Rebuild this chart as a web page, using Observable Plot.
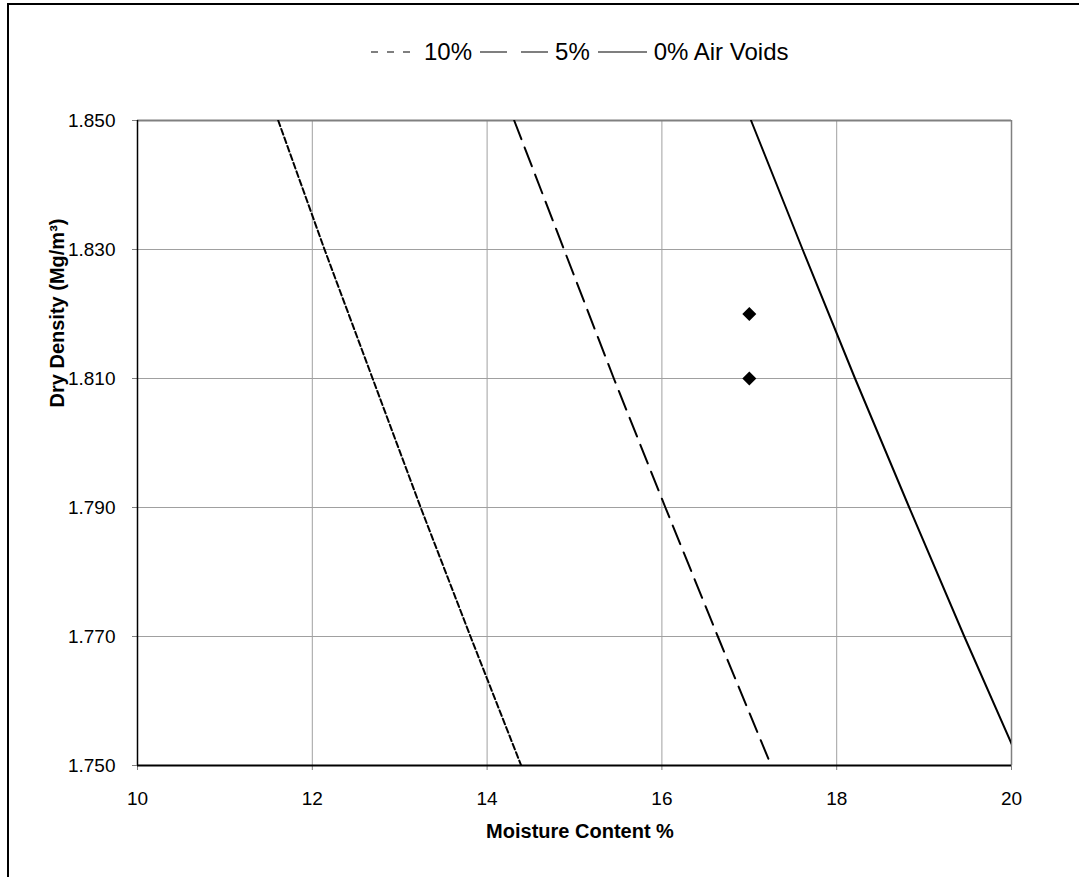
<!DOCTYPE html>
<html>
<head>
<meta charset="utf-8">
<script src="https://cdn.jsdelivr.net/npm/d3@7"></script>
<script src="https://cdn.jsdelivr.net/npm/@observablehq/plot@0.6"></script>
<style>
  html, body { margin: 0; padding: 0; background: #fff; }
  body { width: 1079px; height: 877px; position: relative; overflow: hidden; font-family: "Liberation Sans", Arial, sans-serif; }
  #frame { position: absolute; left: 7px; top: 3px; right: -10px; bottom: -10px; border-top: 2px solid #000; border-left: 2px solid #000; }
  #legend { position: absolute; left: 371px; top: 38px; display: flex; align-items: center; font-size: 24px; color: #000; white-space: nowrap; }
  #legend .item { display: flex; align-items: center; }
  #legend svg { display: block; margin: 0 7px 0 8px; }
  #legend .item:first-child svg { margin-left: 0; }
  #chart { position: absolute; left: 0; top: 0; }
</style>
</head>
<body>
<div id="frame"></div>
<div id="chart"></div>
<div id="legend"></div>
<script>
// ---- data ----
const seriesNames = ["10%", "5%", "0% Air Voids"];
const density = [1.85, 1.83, 1.81, 1.79, 1.77, 1.75];
const moisture10 = [11.61, 12.14, 12.69, 13.24, 13.81, 14.39];
const moisture5  = [14.31, 14.88, 15.45, 16.04, 16.64, 17.25];
const moisture0  = [17.02, 17.61, 18.21, 18.83, 19.46, 20.11];
const pointMoisture = [17, 17];
const pointDensity = [1.82, 1.81];
const xTicks = [10, 12, 14, 16, 18, 20];
const yTicks = [1.75, 1.77, 1.79, 1.81, 1.83, 1.85];
const xTitle = "Moisture Content %";
const yTitle = "Dry Density (Mg/m³)";

const dashes = {"10%": "6,3", "5%": "20,9", "0% Air Voids": null};
const moistureBySeries = {"10%": moisture10, "5%": moisture5, "0% Air Voids": moisture0};

const lineData = seriesNames.flatMap(s =>
  density.map((d, i) => ({series: s, w: moistureBySeries[s][i], rho: d})));
const points = pointMoisture.map((w, i) => ({w, rho: pointDensity[i]}));

const marks = [
  Plot.gridX(xTicks.slice(1, -1), {stroke: "#a0a0a0", strokeOpacity: 1, strokeWidth: 1}),
  Plot.gridY(yTicks.slice(1, -1), {stroke: "#a0a0a0", strokeOpacity: 1, strokeWidth: 1}),
  Plot.ruleY([yTicks[yTicks.length - 1]], {stroke: "#808080", strokeWidth: 2}),
  Plot.ruleX([xTicks[xTicks.length - 1]], {stroke: "#808080", strokeWidth: 1.5}),
  Plot.axisX({ticks: xTicks, tickSize: 5, tickPadding: 21, stroke: "#808080", label: null, fill: "#000"}),
  Plot.axisY({ticks: yTicks, tickSize: 5, tickPadding: 17, tickFormat: d3.format(".3f"), stroke: "#808080", label: null, fill: "#000"}),
];
for (const s of seriesNames) {
  marks.push(Plot.line(lineData.filter(d => d.series === s), {
    x: "w", y: "rho", stroke: "#000", strokeWidth: 2, strokeDasharray: dashes[s], clip: true
  }));
}
marks.push(
  Plot.ruleY([yTicks[0]], {stroke: "#000", strokeWidth: 2}),
  Plot.ruleX([xTicks[0]], {stroke: "#000", strokeWidth: 1.5}),
  Plot.dot(points, {x: "w", y: "rho", symbol: "diamond2", fill: "#000", stroke: "none", r: 6.3})
);

const chart = Plot.plot({
  width: 1079,
  height: 877,
  marginLeft: 137,
  marginRight: 68,
  marginTop: 120,
  marginBottom: 112,
  style: {fontFamily: "'Liberation Sans', Arial, sans-serif", fontSize: "19px", background: "transparent", color: "#000"},
  x: {domain: [xTicks[0], xTicks[xTicks.length - 1]], label: null},
  y: {domain: [yTicks[0], yTicks[yTicks.length - 1]], label: null},
  marks
});

const svg = d3.select(chart);
svg.append("text")
  .attr("x", 580).attr("y", 838)
  .attr("text-anchor", "middle")
  .attr("font-weight", "bold").attr("font-size", 20)
  .attr("fill", "#000")
  .text(xTitle);
svg.append("text")
  .attr("transform", "translate(64,313) rotate(-90)")
  .attr("text-anchor", "middle")
  .attr("font-weight", "bold").attr("font-size", 20)
  .attr("fill", "#000")
  .text(yTitle);
document.getElementById("chart").appendChild(chart);

// legend
const legend = d3.select("#legend");
const sampleW = {"10%": 46, "5%": 68, "0% Air Voids": 49};
const legendDash = {"10%": "7,9", "5%": "27,14", "0% Air Voids": null};
seriesNames.forEach(s => {
  const it = legend.append("span").attr("class", "item");
  const sv = it.append("svg").attr("width", sampleW[s]).attr("height", 10);
  sv.append("line").attr("x1", 0).attr("x2", sampleW[s]).attr("y1", 5).attr("y2", 5)
    .attr("stroke", "#000").attr("stroke-width", 1.2)
    .attr("stroke-dasharray", legendDash[s]);
  it.append("span").text(s);
});
</script>
</body>
</html>
